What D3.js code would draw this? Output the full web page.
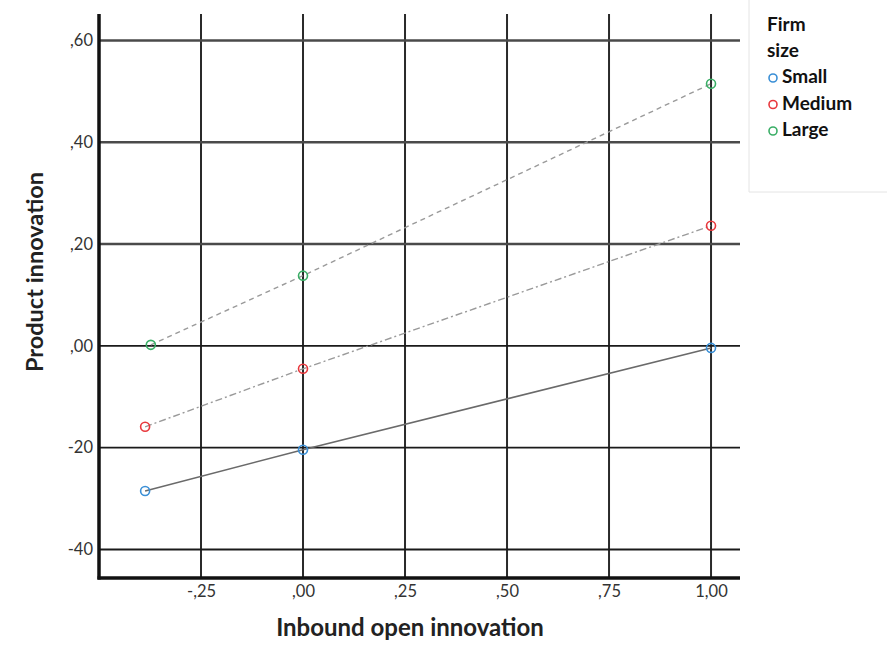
<!DOCTYPE html>
<html>
<head>
<meta charset="utf-8">
<script src="https://cdn.jsdelivr.net/npm/d3@7"></script>
<style>
  body { margin: 0; background: #fff; }
  svg { font-family: Lato, "Open Sans", sans-serif; }
</style>
</head>
<body>
<div class="container"></div>
<script>
// Width and height
var w = 887;
var h = 651;

// data
var groups = ["Small", "Medium", "Large"];
var groupColors = ["#3a8fd6", "#e8383d", "#3aae66"];
var lineDash = ["none", "7,3,2,3", "5,4"];
var smallX = [-0.387, 0, 1];
var smallY = [-0.285, -0.204, -0.004];
var mediumX = [-0.387, 0, 1];
var mediumY = [-0.159, -0.045, 0.236];
var largeX = [-0.373, 0, 1];
var largeY = [0.002, 0.138, 0.515];

var xTicks = [-0.25, 0, 0.25, 0.5, 0.75, 1];
var xTickLabels = ["-,25", ",00", ",25", ",50", ",75", "1,00"];
var yTicks = [0.6, 0.4, 0.2, 0, -0.2, -0.4];
var yTickLabels = [",60", ",40", ",20", ",00", "-20", "-40"];

var series = [
  { name: groups[0], xs: smallX, ys: smallY },
  { name: groups[1], xs: mediumX, ys: mediumY },
  { name: groups[2], xs: largeX, ys: largeY }
];

var x = d3.scaleLinear().domain([-0.5, 1.071]).range([99, 740]);
var y = d3.scaleLinear().domain([-0.456, 0.652]).range([578, 14]);

var svg = d3.select(".container")
  .append("svg")
  .attr("width", w)
  .attr("height", h);

// grid
svg.append("g").selectAll("line")
  .data(xTicks)
  .enter().append("line")
  .attr("x1", function(d) { return x(d); })
  .attr("x2", function(d) { return x(d); })
  .attr("y1", y.range()[0])
  .attr("y2", y.range()[1])
  .attr("stroke", "#2a2a2a")
  .attr("stroke-width", 2);

svg.append("g").selectAll("line")
  .data(yTicks)
  .enter().append("line")
  .attr("x1", x.range()[0])
  .attr("x2", x.range()[1])
  .attr("y1", function(d) { return y(d); })
  .attr("y2", function(d) { return y(d); })
  .attr("stroke", function(d) { return d > 0.1 ? "#4a4a4a" : "#1a1a1a"; })
  .attr("stroke-width", function(d) { return d > 0.1 ? 2.5 : 1.8; });

// axes
var xAxis = svg.append("g")
  .attr("transform", "translate(0," + y.range()[0] + ")")
  .call(d3.axisBottom(x)
    .tickValues(xTicks)
    .tickSize(0)
    .tickPadding(7)
    .tickFormat(function(d, i) { return xTickLabels[i]; }));
xAxis.select(".domain").attr("stroke", "#111").attr("stroke-width", 3.5)
  .attr("d", "M" + (x.range()[0] - 1.5) + ",0H" + x.range()[1]);
xAxis.selectAll("text").attr("font-size", 16.5).attr("fill", "#333")
  .attr("font-family", "Lato, sans-serif");

var yAxis = svg.append("g")
  .attr("transform", "translate(" + x.range()[0] + ",0)")
  .call(d3.axisLeft(y)
    .tickValues(yTicks)
    .tickSize(0)
    .tickPadding(6)
    .tickFormat(function(d, i) { return yTickLabels[i]; }));
yAxis.select(".domain").attr("stroke", "#111").attr("stroke-width", 3.5)
  .attr("d", "M0," + (y.range()[0] + 1.5) + "V" + y.range()[1]);
yAxis.selectAll("text").attr("font-size", 16.5).attr("fill", "#333")
  .attr("font-family", "Lato, sans-serif");

// lines
var line = d3.line()
  .x(function(d) { return x(d[0]); })
  .y(function(d) { return y(d[1]); });

svg.append("g").selectAll("path")
  .data(series)
  .enter().append("path")
  .attr("d", function(s) { return line(d3.zip(s.xs, s.ys)); })
  .attr("fill", "none")
  .attr("stroke", function(s, i) { return i == 0 ? "#6a6a6a" : "#9a9a9a"; })
  .attr("stroke-width", function(s, i) { return i == 0 ? 1.6 : 1.4; })
  .attr("stroke-dasharray", function(s, i) { return lineDash[i]; });

// points
series.forEach(function(s, i) {
  svg.append("g").selectAll("circle")
    .data(d3.zip(s.xs, s.ys))
    .enter().append("circle")
    .attr("cx", function(d) { return x(d[0]); })
    .attr("cy", function(d) { return y(d[1]); })
    .attr("r", 4.5)
    .attr("fill", "none")
    .attr("stroke", groupColors[i])
    .attr("stroke-width", 1.6);
});

// axis titles
svg.append("text")
  .attr("x", 410)
  .attr("y", 636)
  .attr("text-anchor", "middle")
  .attr("font-size", 24)
  .attr("font-weight", "bold")
  .attr("fill", "#222")
  .text("Inbound open innovation");

svg.append("text")
  .attr("transform", "translate(43,272) rotate(-90)")
  .attr("text-anchor", "middle")
  .attr("font-size", 23.5)
  .attr("font-weight", "bold")
  .attr("fill", "#222")
  .text("Product innovation");

// legend
var legend = svg.append("g").attr("class", "key");

legend.append("path")
  .attr("d", "M749,0V192H887")
  .attr("fill", "none")
  .attr("stroke", "#e4e4e4")
  .attr("stroke-width", 1);

legend.append("text")
  .attr("x", 767).attr("y", 31)
  .attr("font-size", 19).attr("font-weight", "bold").attr("fill", "#111")
  .text("Firm");
legend.append("text")
  .attr("x", 767).attr("y", 57)
  .attr("font-size", 19).attr("font-weight", "bold").attr("fill", "#111")
  .text("size");

var items = legend.selectAll(".item")
  .data(groups)
  .enter().append("g")
  .attr("class", "item")
  .attr("transform", function(d, i) { return "translate(0," + (78 + i * 26.5) + ")"; });

items.append("circle")
  .attr("cx", 773).attr("cy", 0).attr("r", 4)
  .attr("fill", "none")
  .attr("stroke", function(d, i) { return groupColors[i]; })
  .attr("stroke-width", 1.6);

items.append("text")
  .attr("x", 782).attr("y", 5)
  .attr("font-size", 19).attr("font-weight", "bold").attr("fill", "#111")
  .text(function(d) { return d; });
</script>
</body>
</html>
